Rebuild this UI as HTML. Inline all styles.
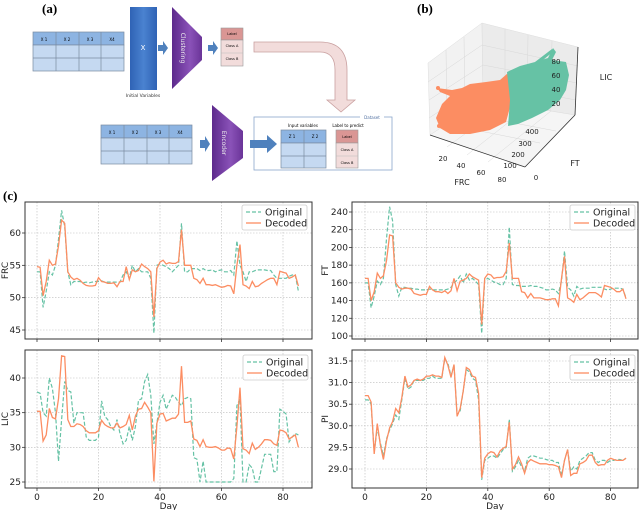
<!DOCTYPE html>
<html><head><meta charset="utf-8">
<style>
html,body{margin:0;padding:0;background:#fff;}
svg{display:block;font-family:"DejaVu Sans","Liberation Sans",sans-serif;}
.tk{font-size:9px;fill:#222;}
.lg{font-size:9.5px;fill:#222;}
.serif{font-family:"Liberation Serif",serif;}
</style></head>
<body>
<svg id="fig" width="640" height="510" viewBox="0 0 640 510" xmlns="http://www.w3.org/2000/svg">
<defs>
<linearGradient id="gblue" x1="0" x2="1"><stop offset="0" stop-color="#2f63b5"/><stop offset="0.5" stop-color="#4a82d0"/><stop offset="1" stop-color="#2f63b5"/></linearGradient>
<linearGradient id="gpurp" x1="0" x2="1"><stop offset="0" stop-color="#5d2a8c"/><stop offset="0.6" stop-color="#8a52b8"/><stop offset="1" stop-color="#6a3498"/></linearGradient>
</defs>

<g>
<text x="42" y="13" class="serif" font-size="13" font-weight="bold">(a)</text>
<g>
<rect x="33" y="32" width="91" height="13" fill="#8db4e2" stroke="#7a8aa0" stroke-width="0.7"/>
<rect x="33" y="45" width="91" height="26" fill="#c5d9f1" stroke="#7a8aa0" stroke-width="0.7"/>
<line x1="33" y1="58" x2="124" y2="58" stroke="#7a8aa0" stroke-width="0.7"/>
<line x1="56" y1="32" x2="56" y2="71" stroke="#7a8aa0" stroke-width="0.7"/>
<line x1="79" y1="32" x2="79" y2="71" stroke="#7a8aa0" stroke-width="0.7"/>
<line x1="101" y1="32" x2="101" y2="71" stroke="#7a8aa0" stroke-width="0.7"/>
<text x="44" y="41" font-size="4" text-anchor="middle">X 1</text><text x="67" y="41" font-size="4" text-anchor="middle">X 2</text><text x="90" y="41" font-size="4" text-anchor="middle">X 3</text><text x="112" y="41" font-size="4" text-anchor="middle">X4</text>
</g>
<rect x="130" y="7" width="27" height="83" fill="url(#gblue)"/>
<text x="143" y="50" font-size="7" fill="#fff" text-anchor="middle">X</text>
<text x="143" y="97" font-size="4.5" text-anchor="middle" fill="#333">Initial Variables</text>
<path d="M158,45 h5 v-4 l5,7 l-5,7 v-4 h-5z" fill="#4f81bd"/>
<path d="M172,7 L202,37 L202,60 L172,89Z" fill="url(#gpurp)"/>
<text x="0" y="0" font-size="6" fill="#eee" text-anchor="middle" transform="translate(181,48) rotate(90)">Clustering</text>
<path d="M208,45 h5 v-4 l5,7 l-5,7 v-4 h-5z" fill="#4f81bd"/>
<g>
<rect x="221" y="28" width="22" height="12" fill="#da9694" stroke="#999" stroke-width="0.6"/>
<rect x="221" y="40" width="22" height="26" fill="#f2dcdb" stroke="#999" stroke-width="0.6"/>
<line x1="221" y1="53" x2="243" y2="53" stroke="#bbb" stroke-width="0.5"/>
<text x="232" y="35" font-size="3.5" text-anchor="middle">Label</text>
<text x="232" y="47" font-size="3.5" text-anchor="middle">Class A</text>
<text x="232" y="60" font-size="3.5" text-anchor="middle">Class B</text>
</g>
<path d="M254,42 H320 Q347,42 347,70 V100 H355 L341,112 L327,100 H335 V70 Q335,52 320,52 H254Z" fill="#f2dcdb" stroke="#c9a0a0" stroke-width="0.8"/>
<g>
<rect x="101" y="125" width="91" height="13" fill="#8db4e2" stroke="#7a8aa0" stroke-width="0.7"/>
<rect x="101" y="138" width="91" height="26" fill="#c5d9f1" stroke="#7a8aa0" stroke-width="0.7"/>
<line x1="101" y1="151" x2="192" y2="151" stroke="#7a8aa0" stroke-width="0.7"/>
<line x1="124" y1="125" x2="124" y2="164" stroke="#7a8aa0" stroke-width="0.7"/>
<line x1="147" y1="125" x2="147" y2="164" stroke="#7a8aa0" stroke-width="0.7"/>
<line x1="169" y1="125" x2="169" y2="164" stroke="#7a8aa0" stroke-width="0.7"/>
<text x="112" y="134" font-size="4" text-anchor="middle">X 1</text><text x="135" y="134" font-size="4" text-anchor="middle">X 2</text><text x="158" y="134" font-size="4" text-anchor="middle">X 3</text><text x="180" y="134" font-size="4" text-anchor="middle">X4</text>
</g>
<path d="M200,140 h5 v-4 l5,8 l-5,8 v-4 h-5z" fill="#4f81bd"/>
<path d="M212,105 L243,131 L243,158 L212,181Z" fill="url(#gpurp)"/>
<text x="0" y="0" font-size="6" fill="#eee" text-anchor="middle" transform="translate(222,143) rotate(90)">Encoder</text>
<rect x="254" y="117" width="138" height="53" fill="#fff" stroke="#8aa6cc" stroke-width="0.8"/>
<rect x="360" y="114" width="24" height="6" fill="#fff"/>
<text x="372" y="119" font-size="4" fill="#4f6fa0" text-anchor="middle">Dataset</text>
<path d="M250,140 h17 v-5 l10,9 l-10,9 v-5 h-17z" fill="#4f81bd"/>
<text x="303" y="127" font-size="4" text-anchor="middle">Input variables</text>
<text x="348" y="127" font-size="4" text-anchor="middle">Label to predict</text>
<g>
<rect x="281" y="130" width="45" height="13" fill="#8db4e2" stroke="#7a8aa0" stroke-width="0.7"/>
<rect x="281" y="143" width="45" height="25" fill="#c5d9f1" stroke="#7a8aa0" stroke-width="0.7"/>
<line x1="281" y1="156" x2="326" y2="156" stroke="#7a8aa0" stroke-width="0.7"/>
<line x1="304" y1="130" x2="304" y2="168" stroke="#7a8aa0" stroke-width="0.7"/>
<text x="292" y="138" font-size="4" text-anchor="middle">Z 1</text><text x="315" y="138" font-size="4" text-anchor="middle">Z 2</text>
</g>
<g>
<rect x="336" y="130" width="22" height="13" fill="#da9694" stroke="#999" stroke-width="0.6"/>
<rect x="336" y="143" width="22" height="25" fill="#f2dcdb" stroke="#999" stroke-width="0.6"/>
<line x1="336" y1="156" x2="358" y2="156" stroke="#bbb" stroke-width="0.5"/>
<text x="347" y="138" font-size="3.5" text-anchor="middle">Label</text>
<text x="347" y="151" font-size="3.5" text-anchor="middle">Class A</text>
<text x="347" y="164" font-size="3.5" text-anchor="middle">Class B</text>
</g>
</g>

<g>
<text x="417" y="13" class="serif" font-size="13" font-weight="bold">(b)</text>
<polygon points="428,63 482,23 483,100 430,135" fill="#f2f2f2" stroke="#ddd" stroke-width="0.5"/>
<polygon points="482,23 578,47 575,115 483,100" fill="#ebebeb" stroke="#ddd" stroke-width="0.5"/>
<polygon points="430,135 483,100 575,115 525,167" fill="#f5f5f5" stroke="#ddd" stroke-width="0.5"/>
<g stroke="#d8d8d8" stroke-width="0.5">
<line x1="446" y1="50" x2="447" y2="123"/><line x1="464" y1="37" x2="465" y2="112"/>
<line x1="505" y1="29" x2="505" y2="104"/><line x1="528" y1="35" x2="527" y2="107"/><line x1="552" y1="41" x2="550" y2="111"/>
<line x1="428" y1="82" x2="482" y2="45"/><line x1="429" y1="100" x2="483" y2="65"/><line x1="429" y1="118" x2="483" y2="83"/>
<line x1="482" y1="45" x2="578" y2="66"/><line x1="483" y1="65" x2="577" y2="83"/><line x1="483" y1="83" x2="576" y2="100"/>
<line x1="447" y1="147" x2="506" y2="104"/><line x1="467" y1="155" x2="528" y2="107"/><line x1="488" y1="162" x2="551" y2="111"/>
<line x1="445" y1="124" x2="540" y2="143"/><line x1="462" y1="113" x2="556" y2="131"/>
</g>
<line x1="430" y1="135" x2="525" y2="167" stroke="#333" stroke-width="0.8"/>
<line x1="525" y1="167" x2="575" y2="115" stroke="#333" stroke-width="0.8"/>
<line x1="578" y1="47" x2="575" y2="115" stroke="#333" stroke-width="0.8"/>
<path d="M437,88 L452,90 L462,88 L470,84 L486,82 L500,80 L508,73 L512,100 L506,122 L490,130 L470,134 L450,134 L440,128 L436,118 L442,104 L450,96 L440,92Z" fill="#fc8d62"/>
<circle cx="438" cy="88" r="2" fill="#fc8d62"/><circle cx="439" cy="126" r="2" fill="#fc8d62"/>
<path d="M507,72 L520,66 L535,62 L548,58 L553,48 L556,52 L552,60 L566,62 L569,75 L566,90 L560,100 L548,110 L532,118 L518,124 L508,126 L510,100Z" fill="#66c2a5"/>
<path d="M535,62 L552,49 L554,51 L538,64Z" fill="#66c2a5"/>
<g class="tk">
<text x="556" y="64" font-size="7" text-anchor="middle">80</text><text x="556" y="78" font-size="7" text-anchor="middle">60</text><text x="556" y="92" font-size="7" text-anchor="middle">40</text><text x="556" y="106" font-size="7" text-anchor="middle">20</text>
<text x="606" y="80" font-size="8" text-anchor="middle">LIC</text>
<text x="532" y="134" font-size="7" text-anchor="middle">400</text><text x="525" y="146" font-size="7" text-anchor="middle">300</text><text x="518" y="157" font-size="7" text-anchor="middle">200</text><text x="510" y="168" font-size="7" text-anchor="middle">100</text><text x="536" y="180" font-size="7" text-anchor="middle">0</text>
<text x="575" y="166" font-size="8" text-anchor="middle">FT</text>
<text x="443" y="161" font-size="7" text-anchor="middle">20</text><text x="461" y="168" font-size="7" text-anchor="middle">40</text><text x="481" y="175" font-size="7" text-anchor="middle">60</text><text x="502" y="182" font-size="7" text-anchor="middle">80</text>
<text x="462" y="185" font-size="8" text-anchor="middle">FRC</text>
</g>
</g>

<text x="3" y="200" class="serif" font-size="13" font-weight="bold">(c)</text>
<g id="charts"></g>
</svg>

<script>
const days = Array.from({length:86},(_,i)=>i);
const xTicks = [0,20,40,60,80];
const frcOriginal = [54,54,48.5,51,54,53.5,55,59,63.5,61,54,52,52.5,52.5,52.5,52.3,52.4,52.3,52.4,52.5,52.5,52.6,52.4,52.4,52.4,52.4,52.4,52.4,53.5,54,53,55,54,54.5,54,54,54,53,44.5,55,55.2,55,54.8,54.5,54,54.5,55,61.5,54,54,54.5,54.5,54.5,54.2,54.5,54.2,54.2,54.3,54,54.2,54.3,54,54,54.2,53.5,58.8,55,54,52.5,54,54,54.2,54.3,54.3,54.3,54.2,54.2,53.5,53,53,53,53,53.3,53.5,53.5,51];
const frcDecoded = [54.8,54.7,50.3,52.5,55.8,55,55.2,58,62,61.5,54,53.2,52.8,53,52.7,52.2,51.9,51.8,51.8,51.9,53.1,52.5,52.4,52.2,52.2,52.3,51.7,52.5,52.5,54.8,52.8,54.3,54,54.2,55.2,54.8,54.5,54,47,54.5,55.5,55.8,55.2,55.4,55.3,55.3,55.6,60.5,55,55,55,53,52.8,52.2,53,52,52,51.9,52,51.8,51.6,51.7,51.9,51.8,50.6,55,58.2,52,51.8,51.4,52.5,51.7,51.8,52.2,52.5,52.8,53,53,52,54.1,53.9,53.8,53,53.2,53.5,51.8];
const frcTicks = [45,50,55,60];
const ftOriginal = [160,160,132,145,162,158,165,210,246,230,158,145,155,155,154,154,153,153,152,152,152,153,152,152,152,152,152,153,155,160,163,168,160,170,163,165,162,158,103,163,165,163,161,160,158,158,165,223,158,157,157,156,156,156,157,156,156,155,154,152,152,153,152,148,162,196,155,152,145,156,153,154,154,154,155,155,155,155,153,152,153,154,154,154,153,143];
const ftDecoded = [165,165,140,150,171,165,168,185,214,213,160,155,153,154,154,153,148,147,146,147,147,156,152,150,150,149,151,148,151,165,151,162,163,165,170,167,165,163,113,165,170,169,165,166,166,167,173,205,165,165,165,150,149,143,148,143,143,143,142,141,141,142,142,134,165,190,143,141,138,147,141,143,146,149,149,149,147,144,157,156,155,153,150,150,153,142];
const ftTicks = [100,120,140,160,180,200,220,240];
const licOriginal = [38,37.8,35,34.5,40,38.5,35,28,34,39.5,38.2,38,33.5,35,35,35,31.5,31,31,31,31.5,36.7,34.5,34,33,32.5,34,32,30.5,31,33,31,33,36.8,37,39.5,40.5,37.5,30.5,33.5,36.5,37.5,35.5,36.5,37.5,37.2,36.5,36,37,37.2,37,28.5,28.3,25,28,25,25,25,25,25,25,25,25,25,25.5,36,37,25,25,27.5,27,25,25,27,29,29,29,26.5,26.5,35.5,35.2,34.8,30.8,31.5,32,31.8];
const licDecoded = [35.2,35.2,30.9,31.8,35.6,34.3,34.1,37,43.2,43.1,34,33,33,33.4,33.3,33,32.4,32.1,32.1,32.1,32.4,33.9,33.3,33,32.8,32.8,33.5,32.8,33,33.3,34.6,32.5,34.5,35.5,35.6,36.5,35.8,35,25.1,33.5,34.8,34.9,33.8,34,34.2,34.2,34.8,41.7,33.6,33.6,33.8,31.2,31,30.1,31.1,30.1,30,30,30.1,29.9,29.6,29.6,29.9,29.8,28.3,33,38.6,29.8,29.6,29.1,30.6,29.7,30,30.5,31.1,31.1,31,30.5,30.3,32.5,32.4,32.1,31.2,31.5,31.8,30];
const licTicks = [25,30,35,40];
const piOriginal = [30.6,30.6,30.5,29.4,29.95,29.6,29.3,29.7,29.9,30.05,30.25,30.15,30.6,31.1,30.85,30.9,31.05,31.05,31.05,31.05,31.1,31.1,31.15,31.1,31.1,31.1,31.55,31.45,31.15,31.4,30.25,30.35,30.8,31.3,31.25,31.1,31.05,30.6,28.75,29.2,29.25,29.3,29.3,29.25,29.35,29.45,29.5,30.15,28.95,29.05,29.2,29.05,28.95,29.25,29.3,29.3,29.28,29.25,29.25,29.22,29.2,29.2,29.15,29.15,28.85,29.2,29.45,28.95,29.05,29,29.2,29.25,29.3,29.38,29.38,29.2,29.15,29.2,29.2,29.15,29.2,29.2,29.22,29.22,29.2,29.25];
const piDecoded = [30.7,30.7,30.55,29.35,30.05,29.55,29.22,29.65,29.95,30.1,30.4,30.3,30.65,31.15,30.9,30.95,31.05,31.08,31.05,31.08,31.15,31.15,31.18,31.15,31.15,31.12,31.58,31.4,31.12,31.42,30.22,30.4,30.8,31.35,31.3,31.15,31.12,30.75,28.8,29.25,29.35,29.4,29.38,29.28,29.42,29.48,29.52,30.08,29,29.1,29.28,29.12,28.9,29.15,29.22,29.18,29.15,29.12,29.12,29.12,29.1,29.1,29.08,29.05,28.8,29.2,29.45,28.85,28.9,28.9,29.12,29.15,29.2,29.32,29.32,29.15,29.08,29.1,29.1,29.2,29.25,29.22,29.2,29.2,29.2,29.25];
const piTicks = [29.0,29.5,30.0,30.5,31.0,31.5];
const piTickLabels = ["29.0","29.5","30.0","30.5","31.0","31.5"];

const NS = "http://www.w3.org/2000/svg";
const root = document.getElementById('charts');
function mk(tag, attrs, parent){const e=document.createElementNS(NS,tag);for(const k in attrs)e.setAttribute(k,attrs[k]);(parent||root).appendChild(e);return e;}

function panel(name, box, xA, yA, yTicks, yLabels, yTitle, titleX, orig, dec, showX, legendBox){
  const g = mk('g',{});
  
  
  const xs = d => xA.x0 + d*xA.k;
  const ys = v => yA.p1 + (v - yA.v1)*(yA.p2 - yA.p1)/(yA.v2 - yA.v1);
  xTicks.forEach(t=>{ mk('line',{x1:xs(t),x2:xs(t),y1:box.y,y2:box.y+box.h,stroke:'#bbb','stroke-width':0.6,'stroke-dasharray':'1.5,1.5'},g);
    mk('line',{x1:xs(t),x2:xs(t),y1:box.y+box.h,y2:box.y+box.h+3,stroke:'#333','stroke-width':0.8},g);
    if(showX){const t2=mk('text',{x:xs(t),y:box.y+box.h+12,'text-anchor':'middle',class:'tk'},g);t2.textContent=t;
      
      }
  });
  yTicks.forEach((t,i)=>{ mk('line',{x1:box.x,x2:box.x+box.w,y1:ys(t),y2:ys(t),stroke:'#bbb','stroke-width':0.6,'stroke-dasharray':'1.5,1.5'},g);
    mk('line',{x1:box.x-3,x2:box.x,y1:ys(t),y2:ys(t),stroke:'#333','stroke-width':0.8},g);
    const tl=mk('text',{x:box.x-4,y:ys(t)+3,'text-anchor':'end',class:'tk'},g);tl.textContent=yLabels[i];
    
    
  });
  const yt = mk('text',{x:0,y:0,'text-anchor':'middle',class:'tk',transform:`translate(${titleX},${box.y+box.h/2}) rotate(-90)`},g);
  yt.textContent=yTitle;
  
  
  const pts = arr => arr.map((v,i)=>xs(days[i]).toFixed(1)+','+ys(v).toFixed(1)).join(' ');
  const lo = mk('polyline',{points:pts(orig),fill:'none',stroke:'#66c2a5','stroke-width':1.2,'stroke-dasharray':'4,2'},g);
  
  
  const ld = mk('polyline',{points:pts(dec),fill:'none',stroke:'#fc8d62','stroke-width':1.3},g);
  
  
  mk('rect',{x:box.x,y:box.y,width:box.w,height:box.h,fill:'none',stroke:'#333','stroke-width':1},g);
  if(showX){const dl=mk('text',{x:box.x+box.w/2,y:box.y+box.h+21,'text-anchor':'middle',class:'tk'},g);dl.textContent='Day';
    
    }
  const L = mk('g',{},g);
  
  
  mk('rect',{x:legendBox.x,y:legendBox.y,width:legendBox.w,height:25,fill:'#fff','fill-opacity':0.85,stroke:'#ccc','stroke-width':0.8,rx:2},L);
  mk('line',{x1:legendBox.x+4,x2:legendBox.x+19,y1:legendBox.y+7,y2:legendBox.y+7,stroke:'#66c2a5','stroke-width':1.2,'stroke-dasharray':'4,2'},L);
  mk('line',{x1:legendBox.x+4,x2:legendBox.x+19,y1:legendBox.y+18,y2:legendBox.y+18,stroke:'#fc8d62','stroke-width':1.3},L);
  const a=mk('text',{x:legendBox.x+23,y:legendBox.y+10.5,class:'lg'},L);a.textContent='Original';
  
  
  const b=mk('text',{x:legendBox.x+23,y:legendBox.y+21.5,class:'lg'},L);b.textContent='Decoded';
  
  
}
const xL={x0:37,k:3.075}, xR={x0:365,k:3.07};
panel('frc-chart',{x:25,y:202,w:287,h:137},xL,{v1:60,p1:233,v2:45,p2:330},frcTicks,frcTicks.map(String),'FRC',8,frcOriginal,frcDecoded,false,{x:242,y:205,w:65});
panel('ft-chart',{x:352,y:202,w:286,h:137},xR,{v1:240,p1:212,v2:100,p2:336},ftTicks,ftTicks.map(String),'FT',328,ftOriginal,ftDecoded,false,{x:570,y:205,w:65});
panel('lic-chart',{x:25,y:350,w:287,h:138},xL,{v1:40,p1:378,v2:25,p2:482},licTicks,licTicks.map(String),'LIC',8,licOriginal,licDecoded,true,{x:243,y:355,w:65});
panel('pi-chart',{x:352,y:350,w:286,h:138},xR,{v1:31.5,p1:361,v2:29,p2:469},piTicks,piTickLabels,'PI',328,piOriginal,piDecoded,true,{x:570,y:355,w:65});
</script>
</body></html>
